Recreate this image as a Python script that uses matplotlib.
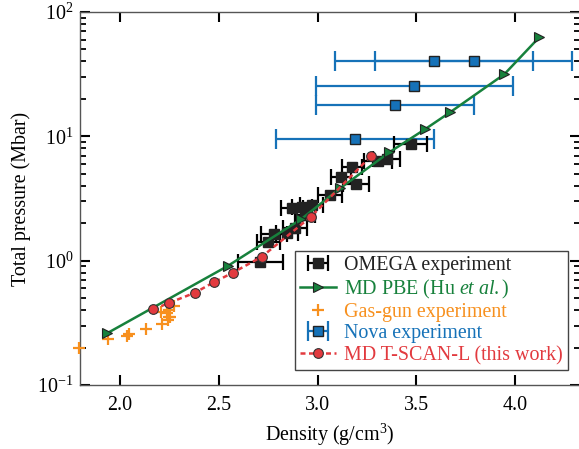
import numpy as np
import matplotlib
matplotlib.use("Agg")
import matplotlib.pyplot as plt

# --- Data ---
omega_rho = [2.71, 2.751, 2.781, 2.844, 2.886, 2.869, 2.92, 2.97, 2.935, 3.063,
             3.119, 3.173, 3.195, 3.305, 3.35, 3.472]
omega_p = [0.98, 1.42, 1.63, 1.66, 1.82, 2.67, 2.72, 2.81, 2.35, 3.38,
           4.69, 5.7, 4.12, 6.3, 6.6, 8.7]
omega_err = [0.115, 0.06, 0.065, 0.055, 0.06, 0.055, 0.05, 0.06, 0.05, 0.06,
             0.05, 0.05, 0.065, 0.07, 0.07, 0.083]

pbe_rho = [1.933, 2.545, 2.916, 3.114, 3.364, 3.544, 3.671, 3.946, 4.123]
pbe_p = [0.26, 0.906, 2.15, 3.82, 7.45, 11.4, 15.6, 31.6, 62.7]

gas_rho = [1.79, 1.94, 2.035, 2.047, 2.13, 2.21, 2.245, 2.25, 2.205, 2.24,
           2.253, 2.275, 2.25]
gas_p = [0.20, 0.235, 0.248, 0.256, 0.28, 0.31, 0.335, 0.355, 0.385, 0.38,
         0.35, 0.43, 0.40]

nova_rho = [3.19, 3.39, 3.49, 3.59, 3.79]
nova_p = [9.5, 18.0, 25.5, 40.0, 40.0]
nova_err = [0.4, 0.4, 0.5, 0.5, 0.5]

scan_rho = [2.169, 2.25, 2.38, 2.474, 2.571, 2.718, 2.967, 3.273]
scan_p = [0.406, 0.459, 0.553, 0.67, 0.80, 1.077, 2.26, 7.0]

# --- Colours ---
c_green = '#17813c'
c_orange = '#f7901e'
c_blue = '#1672b8'
c_red = '#e23a3f'

plt.rcParams['font.family'] = ['Liberation Serif', 'DejaVu Serif']
plt.rcParams['mathtext.fontset'] = 'custom'
plt.rcParams['mathtext.rm'] = 'Liberation Serif'
plt.rcParams['mathtext.it'] = 'Liberation Serif:italic'
plt.rcParams['font.size'] = 14.4

fig = plt.figure(figsize=(5.79, 4.49), dpi=100)
# right spine sits just past the figure edge, as in the reference
ax = fig.add_axes([80 / 579, 64 / 449, 500 / 579, 373 / 449])

h_omega = ax.errorbar(omega_rho, omega_p, xerr=omega_err, fmt='s', color='k',
                      mfc='#222222', mec='#222222', ms=6.5, elinewidth=1.6,
                      capsize=6, capthick=1.6, zorder=3)
h_nova = ax.errorbar(nova_rho, nova_p, xerr=nova_err, fmt='s', color=c_blue,
                     mfc=c_blue, mec='#222222', ms=6.5, elinewidth=1.6,
                     capsize=7, capthick=1.6, zorder=2)
h_gas, = ax.plot(gas_rho, gas_p, '+', color=c_orange, ms=8, mew=1.6,
                 zorder=4, clip_on=False)
h_pbe, = ax.plot(pbe_rho, pbe_p, '-', marker='>', color=c_green, lw=1.8,
                 ms=7, mfc=c_green, mec='#222222', mew=0.8, zorder=5)
h_scan, = ax.plot(scan_rho, scan_p, linestyle=(0, (2, 1.4)), marker='o',
                  color=c_red, lw=1.8, ms=7, mfc=c_red, mec='#333333',
                  mew=0.8, zorder=6)

ax.set_yscale('log')
ax.set_xlim(1.797, 4.329)
ax.set_ylim(0.1, 100)
ax.set_xticks([2.0, 2.5, 3.0, 3.5, 4.0])
ax.set_xticklabels(['2.0', '2.5', '3.0', '3.5', '4.0'])

ax.tick_params(which='both', direction='in', top=True, right=True)
ax.tick_params(which='major', length=7, width=1.5, color='k')
ax.tick_params(which='minor', length=4.5, width=1.3, color='k')
ax.tick_params(axis='x', which='major', pad=8)
ax.tick_params(axis='y', which='major', pad=5)
ax.tick_params(axis='x', which='minor', bottom=False, top=False)
for s in ax.spines.values():
    s.set_color('#555555')
    s.set_linewidth(1.0)

ax.set_xlabel('Density (g/cm$^3$)', labelpad=5)
ax.set_ylabel('Total pressure (Mbar)', labelpad=4)

leg = ax.legend([h_omega, h_pbe, h_gas, h_nova, h_scan],
                ['OMEGA experiment', r'MD PBE (Hu $\it{et\ al.}$)',
                 'Gas-gun experiment', 'Nova experiment',
                 'MD T-SCAN-L (this work)'],
                loc='lower right', bbox_to_anchor=(0.975, 0.04),
                borderaxespad=0, fancybox=False, framealpha=1,
                edgecolor='#444444', labelspacing=0.12, handlelength=1.8,
                handletextpad=0.4, borderpad=0.25)
leg.get_frame().set_linewidth(1.0)
for txt, col in zip(leg.get_texts(), ['#222222', c_green, c_orange, c_blue, c_red]):
    txt.set_color(col)

fig.savefig('out.png', dpi=100)
